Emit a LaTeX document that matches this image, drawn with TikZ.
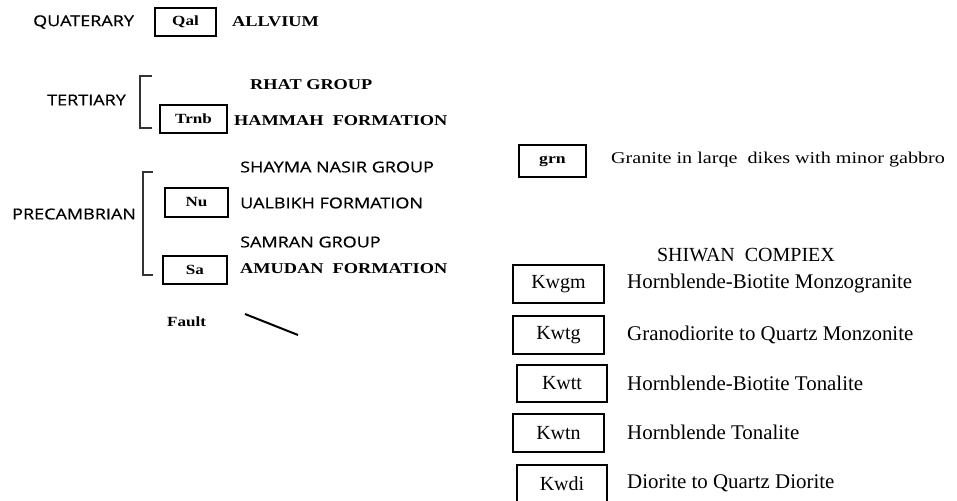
\documentclass[tikz,border=0pt]{standalone}
\usepackage{fontspec}
\setmainfont{Liberation Serif}
\newfontfamily\agesans[FakeStretch=1.2,FakeBold=0.6]{Open Sans}
\newfontfamily\unitserif[FakeStretch=1.22]{Liberation Serif}
\usetikzlibrary{calc,positioning}
\tikzstyle{age} = [font=\agesans\fontsize{15}{17}\selectfont, anchor=west, inner sep=0pt]
\tikzstyle{grp} = [font=\agesans\fontsize{15}{17}\selectfont, anchor=west, inner sep=0pt]
\tikzstyle{fmn} = [font=\unitserif\bfseries\fontsize{15}{17}\selectfont, anchor=west, inner sep=0pt]
\tikzstyle{unit} = [rectangle, draw, line width=1.2pt, inner sep=0pt, font=\unitserif\bfseries\fontsize{14}{16}\selectfont]
\tikzstyle{kunit} = [rectangle, draw, line width=1.2pt, inner sep=0pt, minimum width=91pt, minimum height=38pt, font=\fontsize{20}{22}\selectfont]
\tikzstyle{desc} = [anchor=west, inner sep=0pt, font=\fontsize{20.9}{23}\selectfont]
\tikzstyle{brk} = [line width=1.2pt, draw=black!80]

\begin{document}
\begin{tikzpicture}[x=1pt, y=-1pt]
      \useasboundingbox (0,0) rectangle (957,500);
      % left column
      \node[age] (Q) at (33,22) {QUATERARY};
      \node[unit, minimum width=61pt, minimum height=28pt] (Qal) at (185.5,22) {Qal};
      \node[fmn] (Qd) at (232,22) {ALLVIUM};
      \node[age] (T) at (47,100) {TERTIARY};
      \node[fmn] (TG) at (250,85) {RHAT GROUP};
      \node[unit, minimum width=67pt, minimum height=28pt] (Trnb) at (193.5,119) {Trnb};
      \node[fmn] (Td) at (234,121) {HAMMAH\ \ FORMATION};
      \node[age] (P) at (12,214) {PRECAMBRIAN};
      \node[grp] (PG1) at (240,167) {SHAYMA NASIR GROUP};
      \node[unit, minimum width=63pt, minimum height=29pt] (Nu) at (196.5,202.5) {Nu};
      \node[grp] (Nud) at (240,203) {UALBIKH FORMATION};
      \node[grp] (PG2) at (240,242) {SAMRAN GROUP};
      \node[unit, minimum width=64pt, minimum height=28pt] (Sa) at (195,270) {Sa};
      \node[fmn] (Sad) at (240,269) {AMUDAN\ \ FORMATION};
      \node[fmn, font=\unitserif\bfseries\fontsize{14}{16}\selectfont] (F) at (167,322) {Fault};
      \coordinate (f1) at (245,314);
      \coordinate (f2) at (298,335);
      \draw[line width=2pt] (f1) -- (f2);
      % brackets
      \coordinate (t1) at (140,76);
      \coordinate (t2) at (140,128);
      \draw[brk] ($(t1)+(12,0)$) -- (t1) -- (t2) -- ++(12,0);
      \coordinate (p1) at (143,172);
      \coordinate (p2) at (143,275);
      \draw[brk] ($(p1)+(10,0)$) -- (p1) -- (p2) -- ++(10,0);
      % right column
      \node[unit, font=\unitserif\bfseries\fontsize{14.5}{16}\selectfont, minimum width=67pt, minimum height=32pt] (grn) at (552.5,161) {grn};
      \node[desc, font=\unitserif\fontsize{16.5}{19}\selectfont] (grnd) at (611,160) {Granite in larqe\ \ dikes with minor gabbro};
      \node[font=\fontsize{20}{22}\selectfont, inner sep=0pt] (K) at (746,255) {SHIWAN\ \ COMPIEX};
      \node[kunit] (Kwgm) at (558.5,284) {Kwgm};
      \node[desc] (Kwgmd) at (627,284) {Hornblende-Biotite Monzogranite};
      \node[kunit] (Kwtg) at (558.5,335) {Kwtg};
      \node[desc] (Kwtgd) at (627,335) {Granodiorite to Quartz Monzonite};
      \node[kunit, minimum width=90pt, minimum height=37pt] (Kwtt) at (562,383.5) {Kwtt};
      \node[desc] (Kwttd) at (627,383) {Hornblende-Biotite Tonalite};
      \node[kunit] (Kwtn) at (558.5,433) {Kwtn};
      \node[desc] (Kwtnd) at (627,432) {Hornblende Tonalite};
      \node[kunit, minimum width=90pt] (Kwdi) at (562,484) {Kwdi};
      \node[desc] (Kwdid) at (627,483) {Diorite to Quartz Diorite};
    \end{tikzpicture}
\end{document}
